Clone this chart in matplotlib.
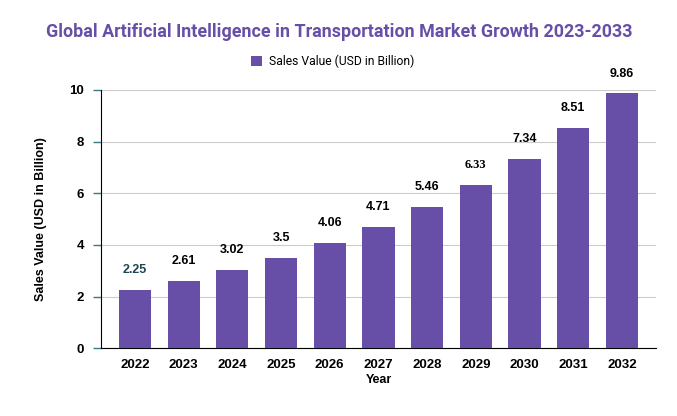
import matplotlib.pyplot as plt

years = ['2022', '2023', '2024', '2025', '2026', '2027', '2028', '2029', '2030', '2031', '2032']
sales = [2.25, 2.61, 3.02, 3.5, 4.06, 4.71, 5.46, 6.33, 7.34, 8.51, 9.86]
value_labels = ['2.25', '2.61', '3.02', '3.5', '4.06', '4.71', '5.46', '6.33', '7.34', '8.51', '9.86']

purple = '#674ea7'
teal = '#3b7a84'

fig = plt.figure(figsize=(6.77, 4.16), dpi=100)
ax = fig.add_axes([0.149, 0.163, 0.820, 0.621])

x = range(len(years))
bars = ax.bar(x, sales, width=0.66, color=purple, label='Sales Value (USD in Billion)', zorder=3)

# value labels above each bar
for i, (v, lab) in enumerate(zip(sales, value_labels)):
    color = '#1d4650' if i == 0 else 'black'
    family = 'Liberation Serif' if i == 7 else 'Liberation Sans'
    ax.annotate(lab, (i, v), xytext=(0, 10), textcoords='offset points',
                ha='center', va='bottom', fontsize=9, fontweight='bold',
                color=color, family=family)

ax.set_xlim(-0.7, 10.7)
ax.set_ylim(0, 10)
ax.set_yticks([0, 2, 4, 6, 8, 10])
ax.set_xticks(list(x))
ax.set_xticklabels(years)
ax.yaxis.grid(True, color='#cccccc', linewidth=0.8, zorder=0)
ax.set_axisbelow(True)

for s in ['top', 'right']:
    ax.spines[s].set_visible(False)
ax.spines['left'].set_color('black')
ax.spines['bottom'].set_color('black')

ax.tick_params(axis='y', length=6, color=teal, width=1, pad=6)
ax.tick_params(axis='x', length=0, pad=8)
for t in ax.get_xticklabels() + ax.get_yticklabels():
    t.set_family('Liberation Sans')
    t.set_fontweight('bold')
    t.set_fontsize(9.5)

ax.set_xlabel('Year', family='Liberation Sans', fontweight='bold', fontsize=9, labelpad=2)
ax.set_ylabel('Sales Value (USD in Billion)', family='Liberation Sans', fontweight='bold',
              fontsize=9, labelpad=16)

fig.text(0.501, 0.922, 'Global Artificial Intelligence in Transportation Market Growth 2023-2033',
         ha='center', va='center', color=purple, fontsize=12.9, fontweight='bold', family='Roboto')

ax.legend(loc='center', bbox_to_anchor=(0.418, 1.111), frameon=False, handlelength=0.9,
          handleheight=0.9, handletextpad=0.6,
          prop={'family': 'Roboto', 'size': 8.7})

fig.savefig('out.png', dpi=100)
